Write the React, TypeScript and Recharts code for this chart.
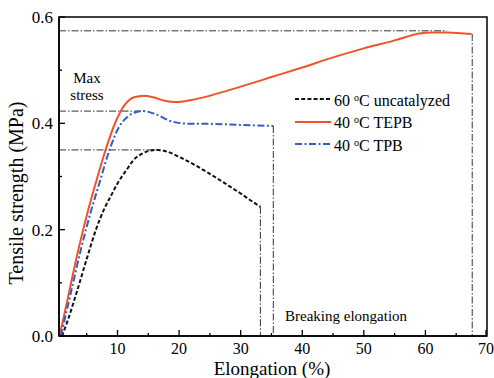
import React from "react";
import {
  LineChart,
  Line,
  XAxis,
  YAxis,
  ReferenceLine,
  ReferenceArea,
  Legend
} from "recharts";

const FONT = '"Liberation Serif", "DejaVu Serif", serif';

// axis setup
const X_MIN = 0.5;
const X_MAX = 70;
const xTicks = [5, 10, 15, 20, 25, 30, 35, 40, 45, 50, 55, 60, 65, 70];
const yTicks = [0, 0.1, 0.2, 0.3, 0.4, 0.5, 0.6];

// stress-strain curves (elongation %, tensile strength MPa)
const uncatalyzed60 = [
  { x: 1.0, y: 0 },
  { x: 2.0, y: 0.032 },
  { x: 3.5, y: 0.087 },
  { x: 5.0, y: 0.145 },
  { x: 6.5, y: 0.2 },
  { x: 8.0, y: 0.243 },
  { x: 9.0, y: 0.265 },
  { x: 10.0, y: 0.287 },
  { x: 11.5, y: 0.313 },
  { x: 12.6, y: 0.331 },
  { x: 14.0, y: 0.343 },
  { x: 15.5, y: 0.349 },
  { x: 16.5, y: 0.35 },
  { x: 18.0, y: 0.347 },
  { x: 20.0, y: 0.337 },
  { x: 22.5, y: 0.322 },
  { x: 25.0, y: 0.305 },
  { x: 28.0, y: 0.283 },
  { x: 30.0, y: 0.268 },
  { x: 32.0, y: 0.252 },
  { x: 33.2, y: 0.243 }
];

const tepb40 = [
  { x: 0.6, y: 0 },
  { x: 2.0, y: 0.075 },
  { x: 3.7, y: 0.165 },
  { x: 5.2, y: 0.235 },
  { x: 6.7, y: 0.297 },
  { x: 8.2, y: 0.355 },
  { x: 9.7, y: 0.403 },
  { x: 11.2, y: 0.435 },
  { x: 12.7, y: 0.449 },
  { x: 14.3, y: 0.452 },
  { x: 15.8, y: 0.449 },
  { x: 17.5, y: 0.443 },
  { x: 19.5, y: 0.44 },
  { x: 22.0, y: 0.444 },
  { x: 25.0, y: 0.452 },
  { x: 30.0, y: 0.469 },
  { x: 35.0, y: 0.487 },
  { x: 40.0, y: 0.505 },
  { x: 45.0, y: 0.524 },
  { x: 50.0, y: 0.541 },
  { x: 55.0, y: 0.556 },
  { x: 57.0, y: 0.563 },
  { x: 59.0, y: 0.569 },
  { x: 61.0, y: 0.571 },
  { x: 63.5, y: 0.571 },
  { x: 67.5, y: 0.568 }
];

const tpb40 = [
  { x: 0.8, y: 0 },
  { x: 2.3, y: 0.075 },
  { x: 4.1, y: 0.165 },
  { x: 5.7, y: 0.235 },
  { x: 7.2, y: 0.293 },
  { x: 8.7, y: 0.35 },
  { x: 10.2, y: 0.392 },
  { x: 11.7, y: 0.413 },
  { x: 13.0, y: 0.421 },
  { x: 14.2, y: 0.423 },
  { x: 16.0, y: 0.418 },
  { x: 19.0, y: 0.403 },
  { x: 22.0, y: 0.399 },
  { x: 25.0, y: 0.399 },
  { x: 30.0, y: 0.397 },
  { x: 35.3, y: 0.395 }
];

// guide lines: max stress (horizontal) and breaking points (vertical)
const maxStress = [
  { x: 16.4, y: 0.35 },
  { x: 14.2, y: 0.423 },
  { x: 63.5, y: 0.574 }
];
const breakPoints = [
  { x: 33.2, y: 0.243 },
  { x: 35.3, y: 0.395 },
  { x: 67.6, y: 0.568 }
];

const SERIES = [
  { temp: "60", label: "uncatalyzed", data: uncatalyzed60, color: "#111", dash: "4 2.2" },
  { temp: "40", label: "TEPB", data: tepb40, color: "#f2522a", dash: undefined },
  { temp: "40", label: "TPB", data: tpb40, color: "#2f5fc4", dash: "7 2.5 2 2.5" }
];

const GUIDE = { stroke: "#333", strokeWidth: 1, strokeDasharray: "7 2 1.5 2" };

const XTick = (props: any) => {
  const { x, y, payload } = props;
  const v = payload.value;
  const major = v % 10 === 0;
  return (
    <g>
      <line x1={x} x2={x} y1={y} y2={y - (major ? 6 : 3)} stroke="#000" strokeWidth={1.3} />
      {major && (
        <text x={x} y={y + 18} textAnchor="middle" fontSize={16} fontFamily={FONT} fill="#000">
          {v}
        </text>
      )}
    </g>
  );
};

const YTick = (props: any) => {
  const { x, y, payload } = props;
  const v = payload.value;
  const major = Math.round(v * 10) % 2 === 0;
  return (
    <g>
      <line x1={x} x2={x + (major ? 6 : 3)} y1={y} y2={y} stroke="#000" strokeWidth={1.3} />
      {major && (
        <text x={x - 6} y={y + 6} textAnchor="end" fontSize={17} fontFamily={FONT} fill="#000">
          {v.toFixed(1)}
        </text>
      )}
    </g>
  );
};

const LegendBox = () => (
  <div style={{ fontFamily: FONT, fontSize: 16, color: "#000" }}>
    {SERIES.map((s) => (
      <div key={s.label} style={{ display: "flex", alignItems: "center", height: 22.5 }}>
        <svg width={36} height={4} style={{ display: "block" }}>
          <line x1={0} x2={36} y1={2} y2={2} stroke={s.color} strokeWidth={2} strokeDasharray={s.dash} />
        </svg>
        <span style={{ marginLeft: 3, whiteSpace: "nowrap", lineHeight: "16px" }}>
          {s.temp} <sup style={{ fontSize: 10, verticalAlign: "5px" }}>o</sup>C {s.label}
        </span>
      </div>
    ))}
  </div>
);

export default function App() {
  return (
    <div style={{ position: "fixed", left: 0, top: 0, width: 494, height: 378, background: "#fff" }}>
      <LineChart width={494} height={378} margin={{ top: 17, right: 7, bottom: 0, left: 0 }}>
        <XAxis
          dataKey="x"
          type="number"
          domain={[X_MIN, X_MAX]}
          ticks={xTicks}
          tick={<XTick />}
          tickSize={0}
          tickMargin={0}
          tickLine={false}
          height={42}
          axisLine={{ stroke: "#000", strokeWidth: 1.5 }}
          allowDataOverflow
        />
        <YAxis
          type="number"
          domain={[0, 0.6]}
          ticks={yTicks}
          tick={<YTick />}
          tickSize={0}
          tickMargin={0}
          tickLine={false}
          width={59}
          axisLine={{ stroke: "#000", strokeWidth: 1.5 }}
          allowDataOverflow
        />
        <ReferenceArea x1={X_MIN} x2={X_MAX} y1={0} y2={0.6} fill="none" stroke="#000" strokeWidth={1.5} />
        {maxStress.map((p, i) => (
          <ReferenceLine key={`h${i}`} segment={[{ x: X_MIN, y: p.y }, { x: p.x, y: p.y }]} {...GUIDE} />
        ))}
        {breakPoints.map((p, i) => (
          <ReferenceLine key={`v${i}`} segment={[{ x: p.x, y: p.y }, { x: p.x, y: 0 }]} {...GUIDE} />
        ))}
        {SERIES.map((s) => (
          <Line
            key={s.label}
            data={s.data}
            dataKey="y"
            name={s.label}
            type="monotone"
            stroke={s.color}
            strokeWidth={2}
            strokeDasharray={s.dash}
            dot={false}
            activeDot={false}
            isAnimationActive={false}
          />
        ))}
        <Legend
          layout="vertical"
          align="center"
          verticalAlign="middle"
          wrapperStyle={{ left: 295, top: 88 }}
          content={() => <LegendBox />}
        />
        <text x={87} y={83} textAnchor="middle" fontSize={15} fontFamily={FONT} fill="#000">Max</text>
        <text x={87} y={100} textAnchor="middle" fontSize={15} fontFamily={FONT} fill="#000">stress</text>
        <text x={285} y={321} fontSize={15} fontFamily={FONT} fill="#000">Breaking elongation</text>
        <text x={23} y={193} transform="rotate(-90, 23, 193)" textAnchor="middle" fontSize={20} fontFamily={FONT} fill="#000">
          Tensile strength (MPa)
        </text>
        <text x={272} y={375} textAnchor="middle" fontSize={19} fontFamily={FONT} fill="#000">
          Elongation (%)
        </text>
      </LineChart>
    </div>
  );
}
